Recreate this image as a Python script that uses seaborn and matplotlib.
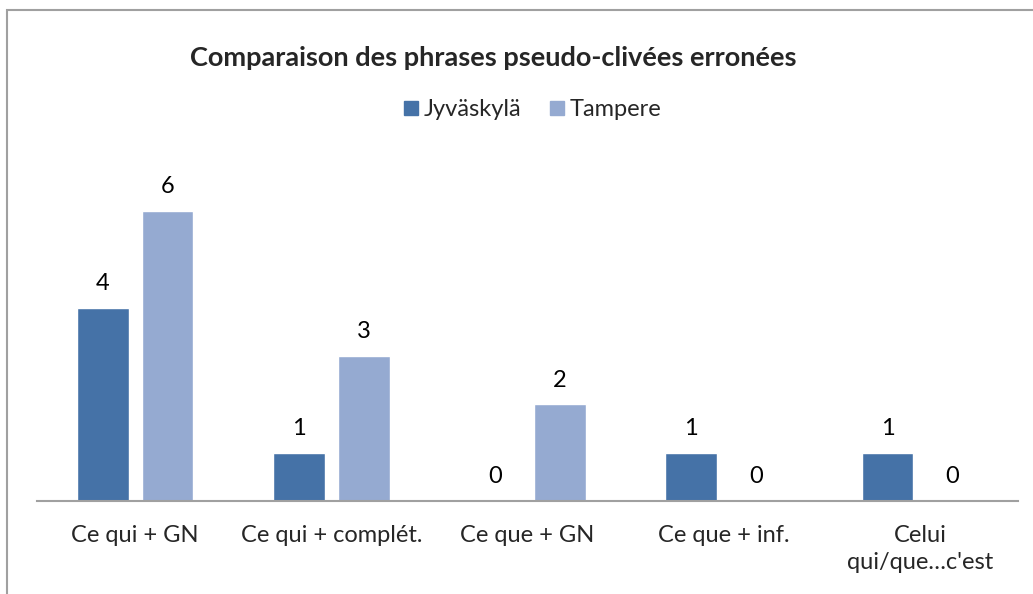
import matplotlib.pyplot as plt
import seaborn as sns
import pandas as pd
from matplotlib.patches import Rectangle
from matplotlib.lines import Line2D

categories = ["Ce qui + GN", "Ce qui + complét.", "Ce que + GN", "Ce que + inf.", "Celui\nqui/que…c'est"]
series = ["Jyväskylä", "Tampere"]
jyvaskyla = [4, 1, 0, 1, 1]
tampere = [6, 3, 2, 0, 0]
colors = ["#4572A7", "#95AAD1"]
title = "Comparaison des phrases pseudo-clivées erronées"

sns.set_theme(style="white")
plt.rcParams["font.family"] = ["Lato", "DejaVu Sans"]

df = pd.DataFrame({
    "cat": categories * 2,
    "serie": [series[0]] * 5 + [series[1]] * 5,
    "val": jyvaskyla + tampere,
})

fig = plt.figure(figsize=(10.33, 5.94), dpi=100)
ax = fig.add_axes([37 / 1033, 1 - 501 / 594, 981 / 1033, 338 / 594])

sns.barplot(data=df, x="cat", y="val", hue="serie", palette=colors,
            width=0.66, gap=0.2, ax=ax, legend=False, saturation=1)

for cont in ax.containers:
    for bar, v in zip(cont, cont.datavalues):
        ax.annotate(f"{v:.0f}", (bar.get_x() + bar.get_width() / 2, v),
                    xytext=(0, 10), textcoords="offset points",
                    ha="center", va="bottom", fontsize=17, color="black")

ax.set_ylim(0, 7)
ax.set_xlim(-0.5, 4.5)
ax.set_xlabel("")
ax.set_ylabel("")
ax.set_yticks([])
for s in ["top", "right", "left"]:
    ax.spines[s].set_visible(False)
ax.spines["bottom"].set_color("#A0A0A0")
ax.spines["bottom"].set_linewidth(1.5)
ax.tick_params(axis="x", length=0, pad=17, labelsize=17)
for lab in ax.get_xticklabels():
    lab.set_linespacing(1.35)

fig.text(493 / 1033, 1 - 58 / 594, title, ha="center", va="center",
         fontsize=19.5, fontweight="bold")

handles = [Line2D([], [], marker="s", linestyle="none", markersize=10,
                  markerfacecolor=c, markeredgecolor=c) for c in colors]
fig.legend(handles, series, loc="center", bbox_to_anchor=(530 / 1033, 1 - 110 / 594),
           ncol=2, frameon=False, fontsize=17, handletextpad=0.05,
           columnspacing=1.0, handlelength=1.0)

# outer chart border (cropped at right and bottom)
fig.patches.append(Rectangle((7 / 1033, -0.05), 1.1, 1 - 10 / 594 + 0.05,
                             transform=fig.transFigure, fill=False,
                             edgecolor="#A0A0A0", linewidth=1.5))

fig.savefig("out.png", dpi=100)
